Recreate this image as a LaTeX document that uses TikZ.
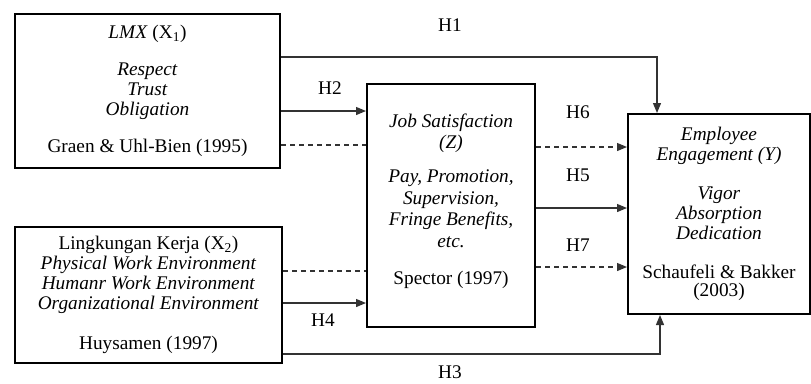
\documentclass[tikz,border=0pt]{standalone}
\usepackage{fontspec}
\setmainfont{Liberation Serif}
\usetikzlibrary{arrows.meta}
\tikzset{
  txt/.style={font=\fontsize{19.3}{20}\selectfont},
  box/.style={txt,draw,line width=2pt,align=center,inner sep=2pt},
  link/.style={line width=1.2pt,black!80,-{Triangle[length=10pt,width=8pt]}},
  dashedlink/.style={link,dash pattern=on 5pt off 4pt}
}
\begin{document}
\begin{tikzpicture}[x=1pt,y=-1pt]
  \useasboundingbox (0,0) rectangle (811,383);
  \node[box,minimum width=265pt,minimum height=154pt] (lmx) at (147.5,91)
    {\textit{LMX} (X\textsubscript{1})\\[17pt] \textit{Respect}\\ \textit{Trust}\\ \textit{Obligation}\\[17pt] Graen \& Uhl-Bien (1995)};
  \node[box,minimum width=267pt,minimum height=136pt] (lingk) at (148.5,295)
    {Lingkungan Kerja (X\textsubscript{2})\\ \textit{Physical Work Environment}\\ \textit{Humanr Work Environment}\\ \textit{Organizational Environment}\\[20pt] Huysamen (1997)};
  \node[box,minimum width=168pt,minimum height=243pt] (job) at (451,205.5)
    {\textit{Job Satisfaction}\\[1.5pt] \textit{(Z)}\\[14pt] \textit{Pay, Promotion,}\\[1.5pt] \textit{Supervision,}\\[1.5pt] \textit{Fringe Benefits,}\\[1.5pt] \textit{etc.}\\[17pt] Spector (1997)\\[-7pt] {}};
  \node[box,minimum width=182pt,minimum height=200pt] (eng) at (719,214)
    {\textit{Employee}\\ \textit{Engagement (Y)}\\[19pt] \textit{Vigor}\\ \textit{Absorption}\\ \textit{Dedication}\\[19pt] Schaufeli \& Bakker\\[-2pt] (2003)};

  \node[txt] (h1) at (450,25) {H1};
  \node[txt] (h2) at (330,88) {H2};
  \node[txt] (h6) at (578,112) {H6};
  \node[txt] (h5) at (578,175) {H5};
  \node[txt] (h7) at (578,245) {H7};
  \node[txt] (h4) at (323,320) {H4};
  \node[txt] (h3) at (450,372) {H3};

  \draw[link] (lmx.east |- 0,57) -| (657,0 |- eng.north);
  \draw[link] (lmx.east |- 0,111) -- (job.west |- 0,111);
  \draw[dashedlink,-] (lmx.east |- 0,145) -- (job.west |- 0,145);
  \draw[dashedlink] (job.east |- 0,147) -- (eng.west |- 0,147);
  \draw[link] (job.east |- 0,208) -- (eng.west |- 0,208);
  \draw[dashedlink] (job.east |- 0,267) -- (eng.west |- 0,267);
  \draw[dashedlink,-] (lingk.east |- 0,271) -- (job.west |- 0,271);
  \draw[link] (lingk.east |- 0,303) -- (job.west |- 0,303);
  \draw[link] (lingk.east |- 0,354) -| (660,0 |- eng.south);
\end{tikzpicture}
\end{document}
